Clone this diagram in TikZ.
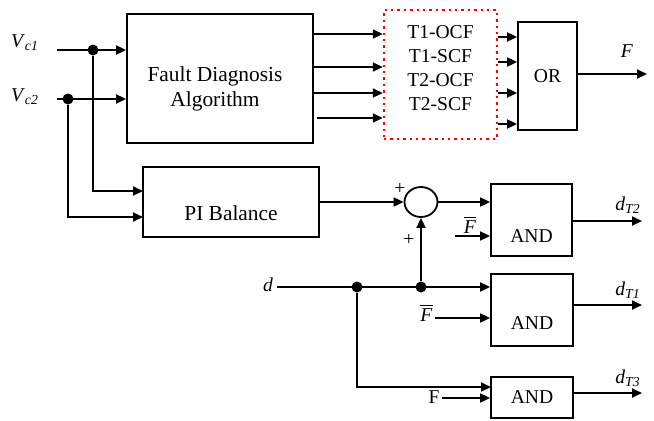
\documentclass[tikz,border=0pt]{standalone}
\usepackage{amsmath}
\usepackage{fontspec}
\setmainfont{Liberation Serif}
\usepackage{tikz}
\usepackage{xcolor}
\usetikzlibrary{arrows.meta,positioning,shapes.geometric,calc}

\tikzset{
    blk/.style={draw, line width=0.9pt, inner sep=0pt},
    arr/.style={-{Triangle[length=5pt,width=4.5pt]}, line width=0.9pt},
    wire/.style={line width=0.9pt},
    dot/.style={circle, fill=black, inner sep=0pt, minimum size=5.5pt},
    lbl/.style={inner sep=1pt},
    big/.style={font=\fontsize{10.7}{12.5}\selectfont}
}
\newcommand{\Fbar}{$\overline{\mbox{\textit{F}}}$}

\begin{document}
\begin{tikzpicture}[x=0.5pt, y=-0.5pt, font=\fontsize{9.8}{12}\selectfont]
        \useasboundingbox (0,0) rectangle (654,420);

        % blocks
        \node[blk, minimum width=93pt, minimum height=64.5pt,
            label={[big, align=center, xshift=-2.5pt, yshift=-5.3pt]center:Fault Diagnosis\\Algorithm}] (fda) at (220,78.5) {};
        \node[draw=red, dotted, line width=1.2pt, inner sep=0pt, minimum width=56.5pt, minimum height=64.5pt,
            label={[align=center, yshift=3.2pt]center:T1-OCF\\T1-SCF\\T2-OCF\\T2-SCF}] (flt) at (440.5,74.5) {};
        \node[blk, minimum width=29.5pt, minimum height=54pt] (orb) at (547.5,76) {OR};
        \node[blk, minimum width=88pt, minimum height=35pt,
            label={[big, yshift=-5.5pt]center:PI Balance}] (pib) at (231,202) {};
        \node[ellipse, draw, line width=0.9pt, inner sep=0pt, minimum width=16.5pt, minimum height=15pt] (sum) at (421,202) {};
        \node[blk, minimum width=40.5pt, minimum height=36pt,
            label={[yshift=-8pt]center:AND}] (and1) at (531.5,220) {};
        \node[blk, minimum width=41pt, minimum height=36pt,
            label={[yshift=-6.5pt]center:AND}] (and2) at (532,310) {};
        \node[blk, minimum width=41pt, minimum height=20.5pt] (and3) at (532,397.5) {AND};

        % inputs
        \node[lbl] (vc1) at (25,43) {\textit{V}\textsubscript{\textit{c1}}};
        \node[lbl] (vc2) at (25,97) {\textit{V}\textsubscript{\textit{c2}}};
        \coordinate (vc1in) at (57,50);
        \coordinate (vc2in) at (57,99);
        \draw[arr] (vc1in) -- (fda.west |- vc1in);
        \draw[arr] (vc2in) -- (fda.west |- vc2in);
        \node[dot] (j1) at (93,50) {};
        \node[dot] (j2) at (68,99) {};
        \coordinate (pi1) at (143,191);
        \coordinate (pi2) at (143,217);
        \draw[arr] (j1) |- (pi1);
        \draw[arr] (j2) |- (pi2);

        % fault flags
        \foreach \y in {34,67,93} {
            \draw[arr] (fda.east |- 0,\y) -- (flt.west |- 0,\y);
        }
        \draw[arr, shorten <=1.5pt] (fda.east |- 0,118) -- (flt.west |- 0,118);
        \foreach \y in {37,62,93,124} {
            \draw[arr] (flt.east |- 0,\y) -- (orb.west |- 0,\y);
        }
        \coordinate (fout) at (647,74);
        \draw[arr] (orb.east |- fout) -- (fout);
        \node[lbl] (flab) at (627,51) {\textit{F}};

        % balance and gating
        \draw[arr] (pib.east) -- (sum.west);
        \node[lbl] at (400,189) {+};
        \node[lbl] at (409,240) {+};
        \draw[arr] (sum.east) -- (and1.west |- sum.east);
        \coordinate (fb1) at (455,236);
        \draw[arr] (fb1) -- (and1.west |- fb1);
        \node[lbl] at (470,225) {\Fbar};
        \coordinate (dt2) at (642,221);
        \draw[arr] (and1.east |- dt2) -- (dt2);
        \node[lbl] at (628,205) {\textit{d}\textsubscript{\textit{T2}}};

        \node[lbl] (dlab) at (268,285) {\textit{d}};
        \coordinate (din) at (277,287);
        \draw[arr] (din) -- (and2.west |- din);
        \node[dot] (j3) at (357,287) {};
        \node[dot] (j4) at (421,287) {};
        \draw[arr] (j4) -- (sum.south);
        \coordinate (fb2) at (435,318);
        \draw[arr] (fb2) -- (and2.west |- fb2);
        \node[lbl, left] at ($(fb2)+(0,-5)$) {\Fbar};
        \coordinate (dt1) at (642,305);
        \draw[arr] (and2.east |- dt1) -- (dt1);
        \node[lbl] at (628,290) {\textit{d}\textsubscript{\textit{T1}}};

        \coordinate (a3in) at (491,387);
        \draw[arr] (j3) |- (a3in);
        \coordinate (fin3) at (442,398);
        \draw[arr] (fin3) -- (and3.west |- fin3);
        \node[lbl, left] at ($(fin3)+(0,-1)$) {F};
        \coordinate (dt3) at (642,393);
        \draw[arr] (and3.east |- dt3) -- (dt3);
        \node[lbl] at (628,378) {\textit{d}\textsubscript{\textit{T3}}};
\end{tikzpicture}
\end{document}
